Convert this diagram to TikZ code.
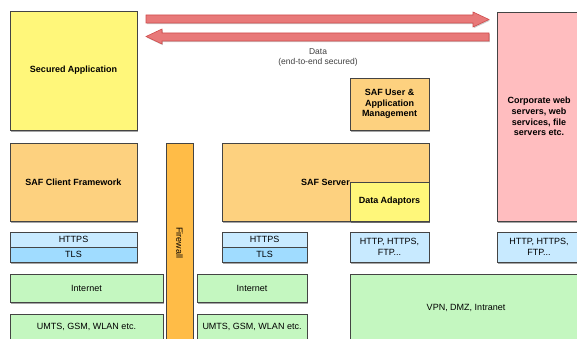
\documentclass[tikz,border=0pt]{standalone}
\usepackage{fontspec}
\setmainfont{Liberation Sans}
\usetikzlibrary{positioning,shadows}

\definecolor{appyellow}{HTML}{FFF77A}
\definecolor{saforange}{HTML}{FDD17F}
\definecolor{fwallorange}{HTML}{FFBC47}
\definecolor{corppink}{HTML}{FFBDBF}
\definecolor{protoblue}{HTML}{C8EAFF}
\definecolor{tlsblue}{HTML}{A0DCFF}
\definecolor{netgreen}{HTML}{C4F7C0}
\definecolor{datared}{HTML}{E87979}
\definecolor{datarededge}{HTML}{D04C4C}
\definecolor{edgegray}{HTML}{444444}

\begin{document}
\begin{tikzpicture}[
    x=1pt, y=-1pt,
    font=\fontsize{9}{10.5}\selectfont,
    blk/.style={draw=edgegray, line width=0.7pt, anchor=north west, inner sep=0pt, outer sep=0pt, align=center,
        drop shadow={shadow xshift=1.2pt, shadow yshift=-1.8pt, opacity=0.35, fill=black}},
    bold/.style={font=\fontsize{9}{10.7}\selectfont\bfseries},
    fatarrow/.style={fill=datared, draw=datarededge, line width=0.6pt,
        drop shadow={shadow xshift=0.8pt, shadow yshift=-1.2pt, opacity=0.2, fill=black}}
]
\useasboundingbox (0,0) rectangle (577,339);
\clip (0,0) rectangle (577,339);

% client side
\node[blk, bold, fill=appyellow, minimum width=127pt, minimum height=119pt] (secapp) at (10,11) {Secured Application};
\node[blk, bold, fill=saforange, minimum width=127pt, minimum height=78pt] (client) at (10,143) {SAF Client Framework};
\node[blk, fill=protoblue, minimum width=127pt, minimum height=15pt] (https1) at (10,232) {HTTPS};
\node[blk, fill=tlsblue, minimum width=127pt, minimum height=15pt] (tls1) at (10,247) {TLS};
\node[blk, fill=netgreen, minimum width=153pt, minimum height=28pt] (inet1) at (10,274) {Internet};
\node[blk, fill=netgreen, minimum width=153pt, minimum height=26pt] (umts1) at (10,314) {UMTS, GSM, WLAN etc.};

% firewall
\node[draw=edgegray, line width=0.7pt, fill=fwallorange, rotate=-90, minimum width=200pt, minimum height=27pt,
    drop shadow={shadow xshift=1.2pt, shadow yshift=-1.8pt, opacity=0.35, fill=black}] (fwall) at (179.5,243) {Firewall};

% server side
\node[blk, bold, fill=saforange, minimum width=207pt, minimum height=78pt] (server) at (222,143) {SAF Server};
\node[blk, bold, fill=appyellow, minimum width=79pt, minimum height=39pt] (adaptors) at (350,182) {Data Adaptors};
\node[blk, bold, fill=saforange, minimum width=79pt, minimum height=52pt] (usermgmt) at (350,78) {SAF User \&\\Application\\Management};
\node[blk, fill=protoblue, minimum width=85pt, minimum height=15pt] (https2) at (222,232) {HTTPS};
\node[blk, fill=tlsblue, minimum width=85pt, minimum height=15pt] (tls2) at (222,247) {TLS};
\node[blk, fill=protoblue, minimum width=79pt, minimum height=30pt] (proto1) at (350,232) {HTTP, HTTPS,\\FTP...};
\node[blk, fill=netgreen, minimum width=110pt, minimum height=28pt] (inet2) at (197,274) {Internet};
\node[blk, fill=netgreen, minimum width=110pt, minimum height=26pt] (umts2) at (197,314) {UMTS, GSM, WLAN etc.};
\node[blk, fill=netgreen, minimum width=232pt, minimum height=68pt] (vpn) at (350,274) {VPN, DMZ, Intranet};

% corporate backend
\node[blk, bold, fill=corppink, minimum width=84pt, minimum height=209pt] (corp) at (497,12) {Corporate web\\servers, web\\services, file\\servers etc.};
\node[blk, fill=protoblue, minimum width=84pt, minimum height=30pt] (proto2) at (497,232) {HTTP, HTTPS,\\FTP...};

% data flow in both directions
\filldraw[fatarrow] (146,15) -- (473,15) -- (473,12) -- (489,19.5) -- (473,27) -- (473,23) -- (146,23) -- cycle;
\filldraw[fatarrow] (489,33) -- (162,33) -- (162,29) -- (146,36.5) -- (162,44) -- (162,41) -- (489,41) -- cycle;
\node[align=center, font=\fontsize{8.5}{10}\selectfont, text=black!75] (datalbl) at (318,57) {Data\\(end-to-end secured)};
\end{tikzpicture}
\end{document}
